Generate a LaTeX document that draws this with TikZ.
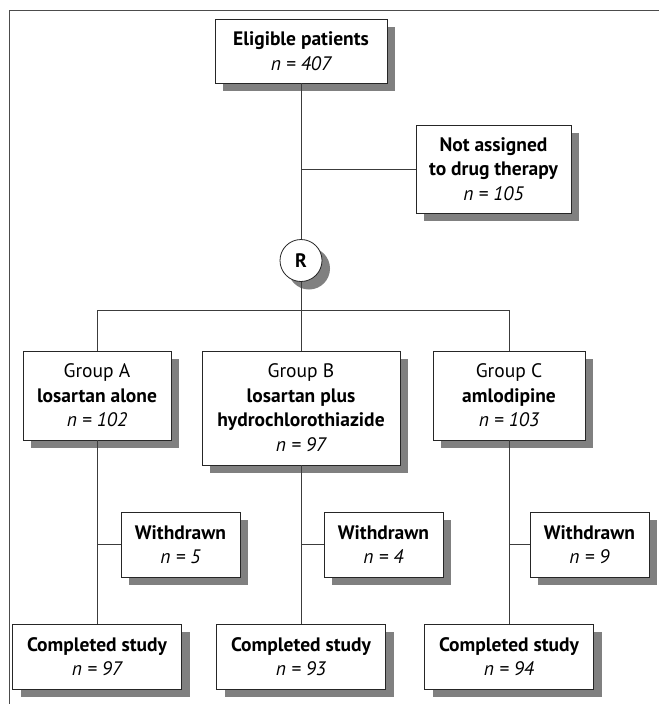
\documentclass[tikz,border=0pt]{standalone}
\usepackage{fontspec}
\setmainfont{PT Sans}
\usetikzlibrary{shadows}
\definecolor{shadowgray}{RGB}{128,128,128}
\definecolor{linegray}{RGB}{60,60,60}
\tikzset{
  boxnode/.style={draw=black!85, line width=0.8pt, fill=white, align=center, inner sep=0pt,
    font=\fontsize{19.5}{24.5}\selectfont,
    drop shadow={shadow xshift=8pt, shadow yshift=-8pt, fill=shadowgray, opacity=1}},
  conn/.style={draw=linegray, line width=0.8pt},
}
\begin{document}
\begin{tikzpicture}[x=1pt,y=-1pt]
\fill[white] (0,0) rectangle (659,704);
\useasboundingbox (0,0) rectangle (659,704);
% frame
\draw[black!70, line width=1.3pt] (9.3,704) -- (9.3,10.7) -- (659,10.7);

\node[boxnode, minimum width=172pt, minimum height=64pt] (elig) at (301,51)
  {{\bfseries Eligible patients}\\{\itshape n = 407}};
\node[boxnode, minimum width=155pt, minimum height=88pt] (notas) at (493.5,169)
  {{\bfseries Not assigned}\\{\bfseries to drug therapy}\\{\itshape n = 105}};
\node[boxnode, circle, minimum size=42pt, font=\fontsize{19.5}{24.5}\selectfont\bfseries] (R) at (301,260.5) {R};

\node[boxnode, minimum width=148pt, minimum height=89pt] (gA) at (97,395.4)
  {Group A\\{\bfseries losartan alone}\\{\itshape n = 102}};
\node[boxnode, minimum width=198pt, minimum height=114pt] (gB) at (301,407.9)
  {Group B\\{\bfseries losartan plus}\\{\bfseries hydrochlorothiazide}\\{\itshape n = 97}};
\node[boxnode, minimum width=152pt, minimum height=89pt] (gC) at (509,395.4)
  {Group C\\{\bfseries amlodipine}\\{\itshape n = 103}};

\node[boxnode, minimum width=119pt, minimum height=65pt] (wA) at (180.5,544.5)
  {{\bfseries Withdrawn}\\{\itshape n = 5}};
\node[boxnode, minimum width=119pt, minimum height=65pt] (wB) at (383.5,544.5)
  {{\bfseries Withdrawn}\\{\itshape n = 4}};
\node[boxnode, minimum width=119pt, minimum height=65pt] (wC) at (589.5,544.5)
  {{\bfseries Withdrawn}\\{\itshape n = 9}};

\node[boxnode, minimum width=169pt, minimum height=65pt] (cA) at (97,656.7)
  {{\bfseries Completed study}\\{\itshape n = 97}};
\node[boxnode, minimum width=169pt, minimum height=65pt] (cB) at (301,656.7)
  {{\bfseries Completed study}\\{\itshape n = 93}};
\node[boxnode, minimum width=169pt, minimum height=65pt] (cC) at (509,656.7)
  {{\bfseries Completed study}\\{\itshape n = 94}};

% connectors
\draw[conn] (elig.south) -- (R.north);
\draw[conn] (notas.west) -- (notas.west -| elig.south);
\coordinate (split) at (301,310.5);
\draw[conn] (R.south) -- (gB.north);
\draw[conn] (gA.north) |- (split) -| (gC.north);

\draw[conn] (gA.south) -- (cA.north);
\draw[conn] (gB.south) -- (cB.north);
\draw[conn] (gC.south) -- (cC.north);
\draw[conn] (wA.west) -- (wA.west -| gA.south);
\draw[conn] (wB.west) -- (wB.west -| gB.south);
\draw[conn] (wC.west) -- (wC.west -| gC.south);
\end{tikzpicture}
\end{document}
